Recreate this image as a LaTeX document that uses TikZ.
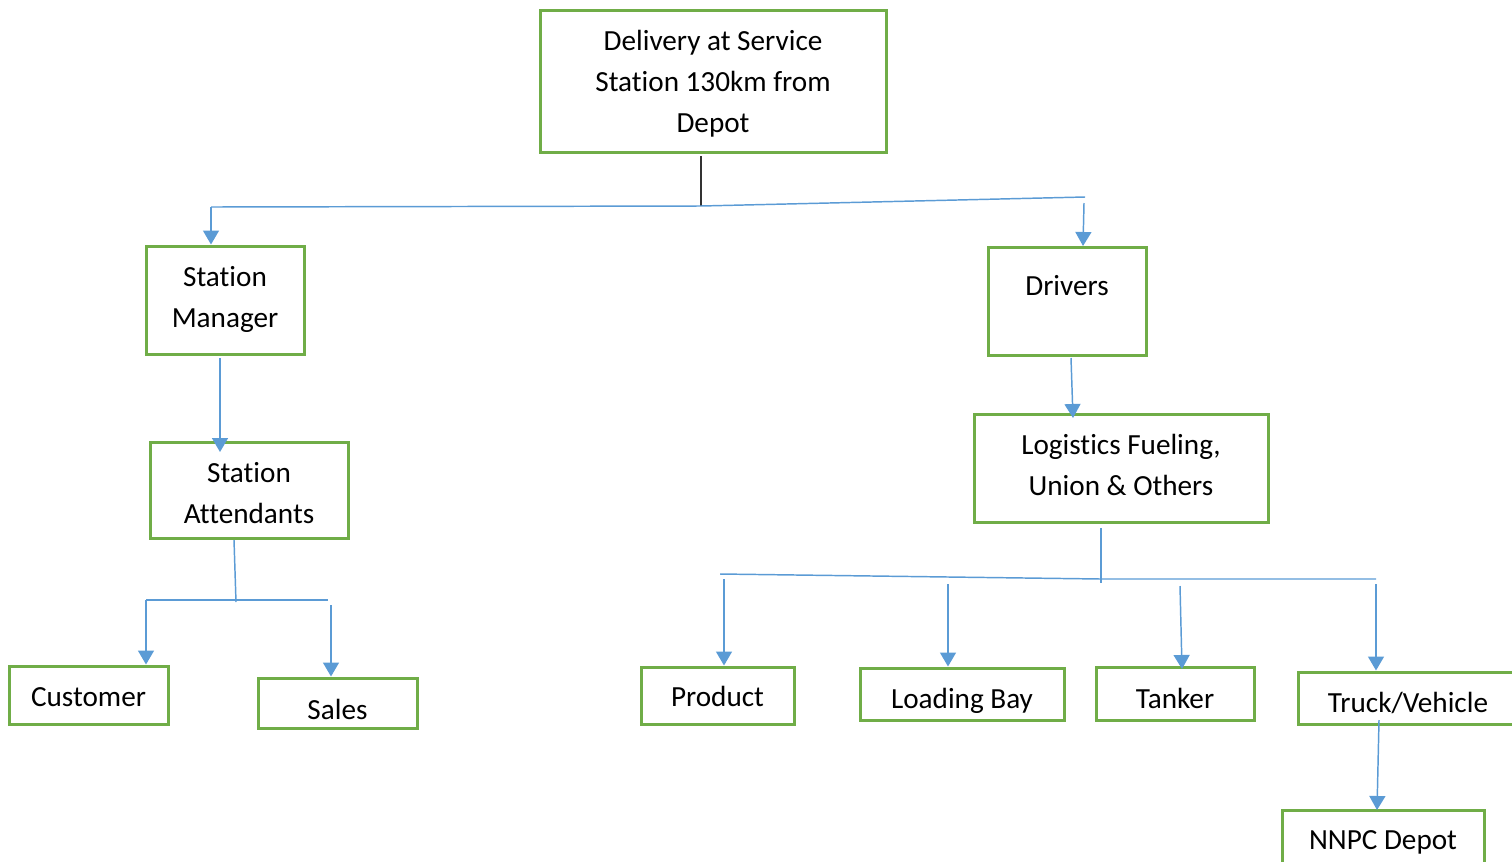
\documentclass[tikz,border=0pt]{standalone}
\usepackage{fontspec}
\setmainfont[Ligatures={NoCommon}]{Carlito}
\usetikzlibrary{arrows.meta}
\definecolor{boxgreen}{HTML}{70AD47}
\definecolor{linkblue}{HTML}{5B9BD5}
% move a label up or down inside its box without changing the box size
\newcommand{\nudge}[2]{\raisebox{#1}[\height][\depth]{#2}}
\newcommand{\lines}[2]{\raisebox{#1}[\height][\depth]{\begin{tabular}{@{}c@{}}#2\end{tabular}}}
\begin{document}
\begin{tikzpicture}[x=0.75pt,y=-0.75pt,
  box/.style={draw=boxgreen,line width=2.25pt,rectangle,inner sep=0pt,
    font=\fontsize{21.9pt}{30.75pt}\selectfont},
  link/.style={draw=linkblue,line width=1.1pt},
  arrowlink/.style={link,-{Triangle[width=12pt,length=10.5pt]},color=linkblue}]
\useasboundingbox (0,0) rectangle (1512,861);
\clip (0,0) rectangle (1512,861);

% boxes
\node[box,minimum width=259.5pt,minimum height=106.5pt] (top) at (713,81)
  {\lines{-1.5pt}{Delivery at Service\\Station 130km from\\Depot}};
\node[box,minimum width=118.5pt,minimum height=81pt] (sm) at (225,300)
  {\lines{0.75pt}{Station\\Manager}};
\node[box,minimum width=118.5pt,minimum height=81pt] (drv) at (1067,301)
  {\nudge{11.25pt}{Drivers}};
\node[box,minimum width=148.5pt,minimum height=72pt] (sa) at (249,490)
  {\lines{-3.75pt}{Station\\Attendants}};
\node[box,minimum width=220.5pt,minimum height=81pt] (log) at (1121,468)
  {\lines{0.75pt}{Logistics Fueling,\\Union \& Others}};
\node[box,minimum width=119.25pt,minimum height=43.5pt] (cus) at (88.5,695)
  {\nudge{-1.5pt}{Customer}};
\node[box,minimum width=119.25pt,minimum height=37.5pt] (sal) at (337.5,703)
  {\nudge{-5pt}{Sales}};
\node[box,minimum width=114.75pt,minimum height=42.75pt] (prd) at (717.5,695.5)
  {\nudge{-0.75pt}{Product}};
\node[box,minimum width=153pt,minimum height=39pt] (lb) at (962,694)
  {\nudge{-5.5pt}{Loading Bay}};
\node[box,minimum width=118.5pt,minimum height=39.75pt] (tnk) at (1175,693.5)
  {\nudge{-4pt}{Tanker}};
\node[box,minimum width=165pt,minimum height=39pt] (trk) at (1408,698)
  {\nudge{-4pt}{Truck/Vehicle}};
\node[box,minimum width=151.5pt,minimum height=45pt] (nnpc) at (1383,840)
  {\nudge{-1.5pt}{NNPC Depot}};

% junction points
\coordinate (t0) at (701,156);
\coordinate (t1) at (701,206);
\coordinate (hl) at (211,207);
\coordinate (hr) at (1085,197);
\coordinate (dl) at (1084,203);
\coordinate (dt) at (1083,246);
\coordinate (s0) at (220,358);
\coordinate (s1) at (220,452);
\coordinate (a0) at (234,540);
\coordinate (a1) at (236,602);
\coordinate (al) at (146,600);
\coordinate (ar) at (328,600);
\coordinate (ar2) at (331,605);
\coordinate (d0) at (1071,358);
\coordinate (d1) at (1073,418);
\coordinate (l0) at (1101,528);
\coordinate (l1) at (1101,583);
\coordinate (bl) at (720,574);
\coordinate (bm) at (1101,579);
\coordinate (br) at (1376,579);
\coordinate (p0) at (724,579);
\coordinate (q0) at (948,584);
\coordinate (k0) at (1180,586);
\coordinate (k1) at (1182,669);
\coordinate (r0) at (1376,584);
\coordinate (v0) at (1379,720);
\coordinate (v1) at (1377,810);

% connectors
\draw[line width=1.1pt,black!80] (t0) -- (t1);
\draw[link] (hl) -- (t1) -- (hr);
\draw[arrowlink] (hl) -- (hl |- sm.north);
\draw[arrowlink] (dl) -- (dt);
\draw[arrowlink] (s0) -- (s1);
\draw[link] (a0) -- (a1);
\draw[link] (al) -- (ar);
\draw[arrowlink] (al) -- (al |- cus.north);
\draw[arrowlink] (ar2) -- (ar2 |- sal.north);
\draw[arrowlink] (d0) -- (d1);
\draw[link] (l0) -- (l1);
\draw[link] (bl) -- (bm) -- (br);
\draw[arrowlink] (p0) -- (p0 |- prd.north);
\draw[arrowlink] (q0) -- (q0 |- lb.north);
\draw[arrowlink] (k0) -- (k1);
\draw[arrowlink] (r0) -- (r0 |- trk.north);
\draw[arrowlink] (v0) -- (v1);
\end{tikzpicture}
\end{document}
